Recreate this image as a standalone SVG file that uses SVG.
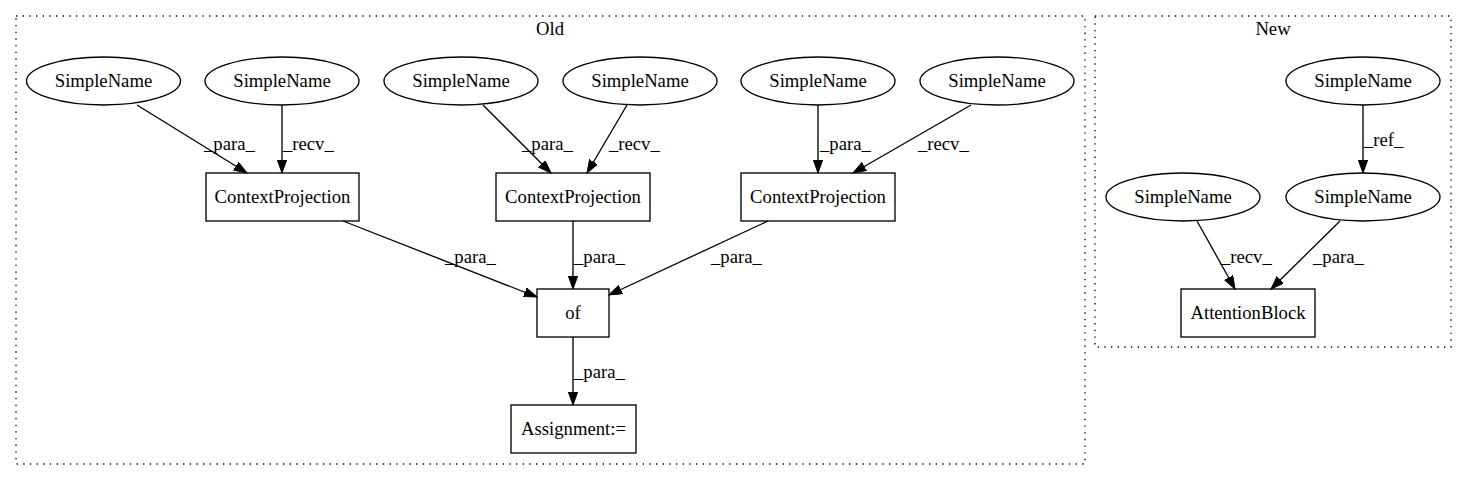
<svg xmlns="http://www.w3.org/2000/svg" width="1467" height="480" viewBox="0 0 1467 480">
<style>
text{font-family:"Liberation Serif","Times New Roman",serif;font-size:18.67px;fill:#000}
.n{text-anchor:middle}
.shape{fill:none;stroke:#000;stroke-width:1.33}
.cl{fill:none;stroke:#000;stroke-width:1.33;stroke-dasharray:1.33 5.33}
.e{fill:none;stroke:#000;stroke-width:1.33;marker-end:url(#ah)}
</style>
<defs>
<marker id="ah" markerUnits="userSpaceOnUse" markerWidth="14" markerHeight="10" refX="13" refY="4.67" orient="auto" viewBox="0 0 14 10">
<path d="M0,0 L13,4.67 L0,9.33 Z" fill="#000" stroke="#000" stroke-width="1"/>
</marker>
</defs>
<rect width="1467" height="480" fill="#fff"/>
<g id="cluster_old">
<rect class="cl" x="16" y="16" width="1069" height="448"/>
<text class="n" x="550" y="35">Old</text>
</g>
<g id="cluster_new">
<rect class="cl" x="1095" y="16" width="356" height="331"/>
<text class="n" x="1273" y="35">New</text>
</g>
<g id="edges">
<path class="e" d="M137,105 L247,173"/>
<text x="204" y="150">_para_</text>
<path class="e" d="M282,105 L282,173"/>
<text x="283" y="150">_recv_</text>
<path class="e" d="M483,105 L551,173"/>
<text x="522" y="150">_para_</text>
<path class="e" d="M627,105 L587,173"/>
<text x="609" y="150">_recv_</text>
<path class="e" d="M818,105 L818,173"/>
<text x="820" y="150">_para_</text>
<path class="e" d="M971,105 L853,173"/>
<text x="918" y="150">_recv_</text>
<path class="e" d="M343,221 L537,297"/>
<text x="445" y="263">_para_</text>
<path class="e" d="M573,221 L573,289"/>
<text x="574" y="263">_para_</text>
<path class="e" d="M768,221 L609,295"/>
<text x="711" y="263">_para_</text>
<path class="e" d="M573,337 L573,405"/>
<text x="574" y="378">_para_</text>
<path class="e" d="M1363,105 L1363,173"/>
<text x="1364" y="146">_ref_</text>
<path class="e" d="M1197,221 L1235,289"/>
<text x="1221" y="263">_recv_</text>
<path class="e" d="M1340,221 L1271,289"/>
<text x="1313" y="263">_para_</text>
</g>
<g id="sn1"><ellipse class="shape" cx="103.5" cy="81" rx="77" ry="24"/><text class="n" x="103.5" y="87">SimpleName</text></g>
<g id="sn2"><ellipse class="shape" cx="282" cy="81" rx="77" ry="24"/><text class="n" x="282" y="87">SimpleName</text></g>
<g id="sn3"><ellipse class="shape" cx="461" cy="81" rx="77" ry="24"/><text class="n" x="461" y="87">SimpleName</text></g>
<g id="sn4"><ellipse class="shape" cx="640" cy="81" rx="77" ry="24"/><text class="n" x="640" y="87">SimpleName</text></g>
<g id="sn5"><ellipse class="shape" cx="818" cy="81" rx="77" ry="24"/><text class="n" x="818" y="87">SimpleName</text></g>
<g id="sn6"><ellipse class="shape" cx="997" cy="81" rx="77" ry="24"/><text class="n" x="997" y="87">SimpleName</text></g>
<g id="cp1"><rect class="shape" x="206" y="173" width="153" height="48"/><text class="n" x="282.5" y="203">ContextProjection</text></g>
<g id="cp2"><rect class="shape" x="496" y="173" width="154" height="48"/><text class="n" x="573" y="203">ContextProjection</text></g>
<g id="cp3"><rect class="shape" x="741" y="173" width="154" height="48"/><text class="n" x="818" y="203">ContextProjection</text></g>
<g id="of"><rect class="shape" x="537" y="289" width="72" height="48"/><text class="n" x="573" y="319">of</text></g>
<g id="assign"><rect class="shape" x="511" y="405" width="125" height="48"/><text class="n" x="573.5" y="435">Assignment:=</text></g>
<g id="nsn1"><ellipse class="shape" cx="1363" cy="81" rx="77" ry="24"/><text class="n" x="1363" y="87">SimpleName</text></g>
<g id="nsn2"><ellipse class="shape" cx="1363" cy="197" rx="77" ry="24"/><text class="n" x="1363" y="203">SimpleName</text></g>
<g id="nsn3"><ellipse class="shape" cx="1183" cy="197" rx="77" ry="24"/><text class="n" x="1183" y="203">SimpleName</text></g>
<g id="ab"><rect class="shape" x="1181" y="289" width="134" height="48"/><text class="n" x="1248" y="319">AttentionBlock</text></g>
</svg>
